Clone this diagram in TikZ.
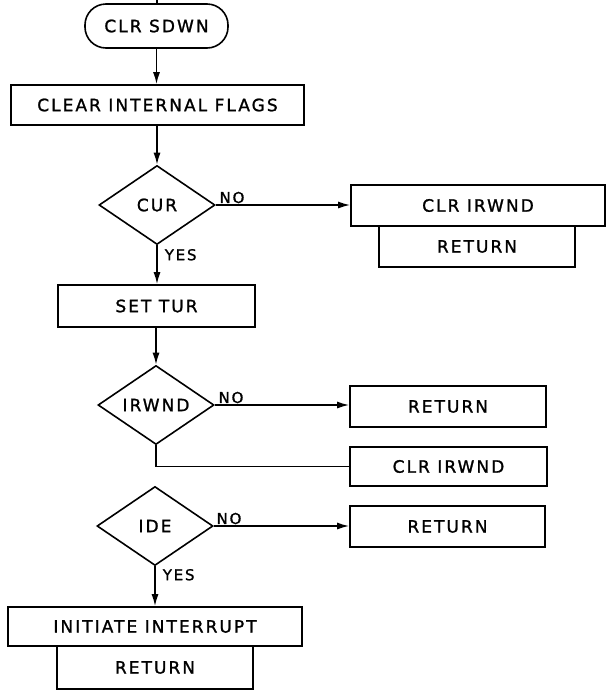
\documentclass[tikz,border=0pt]{standalone}
\usepackage{fontspec}
\setmainfont{DejaVu Sans}[LetterSpace=12,FakeBold=1.3]
\usetikzlibrary{shapes.geometric,arrows.meta}
\begin{document}
\begin{tikzpicture}[x=1pt,y=-1pt,
  every node/.style={font=\fontsize{17}{19}\selectfont},
  box/.style={draw, rectangle, inner sep=0pt, line width=1.6pt},
  term/.style={box, rounded corners=21pt},
  dec/.style={draw, diamond, aspect=1.47, inner sep=0pt, line width=1.6pt,
              minimum width=116pt, minimum height=79pt},
  flow/.style={line width=1.6pt, -{Latex[length=12pt,width=7pt]}},
  plain/.style={line width=1.6pt},
  lbl/.style={font=\fontsize{15}{17}\selectfont, inner sep=1pt}
]
\fill[white] (0,0) rectangle (613,694);
\useasboundingbox (0,0) rectangle (613,694);

\coordinate (top) at (157,0);
\node[term, minimum width=143pt, minimum height=44pt] (start) at (156.5,26) {CLR SDWN};
\node[box, minimum width=293pt, minimum height=40pt] (clear) at (157.5,105) {CLEAR INTERNAL FLAGS};
\node[dec] (cur) at (157,205) {CUR};
\node[box, minimum width=254pt, minimum height=41pt] (clr1) at (478,205.5) {CLR IRWND};
\node[box, minimum width=196pt, minimum height=41pt] (reta) at (477,246.5) {RETURN};
\node[box, minimum width=197pt, minimum height=42pt] (settur) at (156.5,306) {SET TUR};
\node[dec] (irwnd) at (156,405) {IRWND};
\node[box, minimum width=196pt, minimum height=41pt] (ret1) at (448,406.5) {RETURN};
\node[box, minimum width=197pt, minimum height=39pt] (clr2) at (448.5,466.5) {CLR IRWND};
\node[box, minimum width=195pt, minimum height=41pt] (ret2) at (447.5,526.5) {RETURN};
\node[dec] (ide) at (155,526) {IDE};
\node[box, minimum width=294pt, minimum height=39pt] (init) at (155,626.5) {INITIATE INTERRUPT};
\node[box, minimum width=196pt, minimum height=43pt] (ret3) at (155,667.5) {RETURN};

\draw[plain] (top) -- (top |- start.north);
\draw[flow] (start.south) -- (start.south |- clear.north);
\draw[flow] (clear.south -| cur.north) -- (cur.north);
\draw[flow] (cur.east) -- (cur.east -| clr1.west)
  node[pos=0, above right, lbl, xshift=2pt] {NO};
\draw[flow] (cur.south) -- (cur.south |- settur.north)
  node[pos=0, below right, lbl, xshift=6pt, yshift=-2pt] {YES};
\draw[flow] (settur.south -| irwnd.north) -- (irwnd.north);
\draw[flow] (irwnd.east) -- (irwnd.east -| ret1.west)
  node[pos=0, above right, lbl, xshift=2pt] {NO};
\draw[plain] (irwnd.south) |- (clr2.west);
\draw[flow] (ide.east) -- (ide.east -| ret2.west)
  node[pos=0, above right, lbl, xshift=1pt] {NO};
\draw[flow] (ide.south) -- (ide.south |- init.north)
  node[pos=0, below right, lbl, xshift=6pt, yshift=-1pt] {YES};
\end{tikzpicture}
\end{document}
